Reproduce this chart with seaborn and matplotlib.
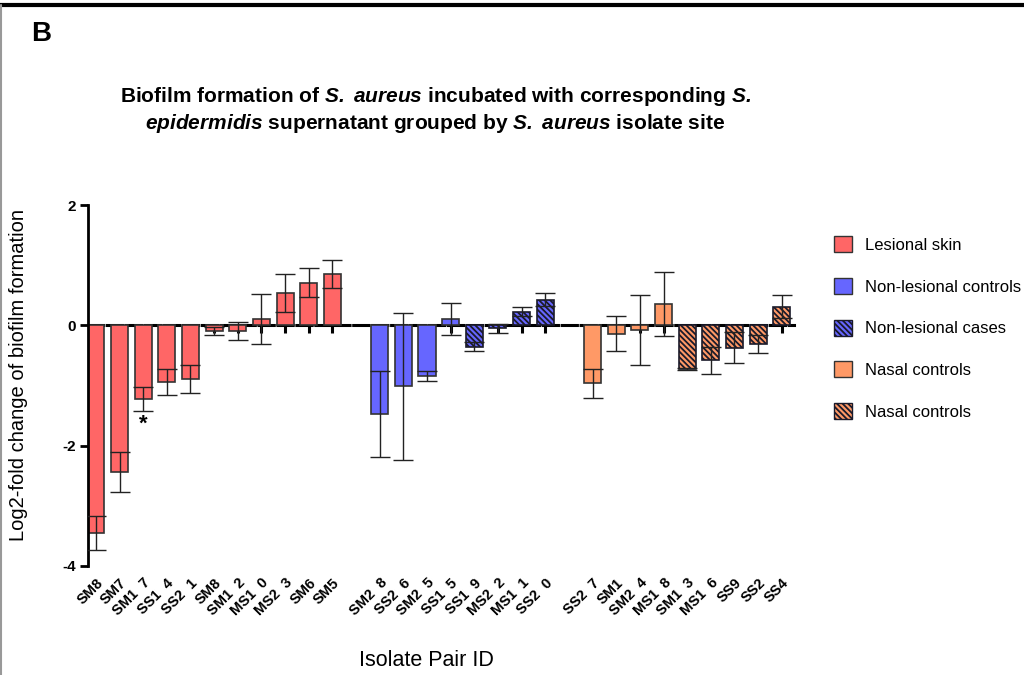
import numpy as np
import pandas as pd
import matplotlib
matplotlib.use("Agg")
import matplotlib.pyplot as plt
import seaborn as sns
from matplotlib.patches import Patch
from matplotlib.lines import Line2D

# ---------------- data ----------------
red_ids = ["SM8", "SM7", "SM1  7", "SS1  4", "SS2  1", "SM8", "SM1  2", "MS1  0", "MS2  3", "SM6", "SM5"]
red_mean = [-3.45, -2.44, -1.22, -0.94, -0.89, -0.09, -0.09, 0.11, 0.54, 0.71, 0.86]
red_err = [0.28, 0.33, 0.20, 0.21, 0.24, 0.07, 0.15, 0.41, 0.32, 0.24, 0.23]

blue_ctrl_ids = ["SM2  8", "SS2  6", "SM2  5", "SS1  5"]
blue_ctrl_mean = [-1.47, -1.01, -0.84, 0.11]
blue_ctrl_err = [0.72, 1.22, 0.08, 0.27]

blue_case_ids = ["SS1  9", "MS2  2", "MS1  1", "SS2  0"]
blue_case_mean = [-0.35, -0.05, 0.23, 0.43]
blue_case_err = [0.07, 0.08, 0.07, 0.11]

or_ctrl_ids = ["SS2  7", "SM1", "SM2  4", "MS1  8"]
or_ctrl_mean = [-0.96, -0.14, -0.08, 0.36]
or_ctrl_err = [0.24, 0.29, 0.58, 0.53]

or_case_ids = ["SM1  3", "MS1  6", "SS9", "SS2", "SS4"]
or_case_mean = [-0.72, -0.58, -0.37, -0.31, 0.31]
or_case_err = [0.02, 0.23, 0.26, 0.15, 0.19]

groups = ["Lesional skin", "Non-lesional controls", "Non-lesional cases", "Nasal controls", "Nasal cases"]
legend_labels = ["Lesional skin", "Non-lesional controls", "Non-lesional cases", "Nasal controls", "Nasal controls"]
colors = ["#FF6666", "#6666FF", "#6666FF", "#FF9966", "#FF9966"]
hatched = [False, False, True, False, True]

# ---------------- build frame ----------------
blocks = [
    [(groups[0], red_ids, red_mean, red_err)],
    [(groups[1], blue_ctrl_ids, blue_ctrl_mean, blue_ctrl_err),
     (groups[2], blue_case_ids, blue_case_mean, blue_case_err)],
    [(groups[3], or_ctrl_ids, or_ctrl_mean, or_ctrl_err),
     (groups[4], or_case_ids, or_case_mean, or_case_err)],
]
rows = []
order = []
ticklabels = []
for bi, block in enumerate(blocks):
    if bi > 0:
        gap = f"gap{bi}"
        order.append(gap)
        ticklabels.append("")
    for g, ids, means, errs in block:
        for k, (i, m, e) in enumerate(zip(ids, means, errs)):
            key = f"{g}:{k}"
            rows.append(dict(key=key, label=i, group=g, value=m, err=e))
            order.append(key)
            ticklabels.append(i)
df = pd.DataFrame(rows)
df["pos"] = [order.index(k) for k in df["key"]]

# ---------------- style ----------------
sns.set_style("ticks")
plt.rcParams["font.family"] = ["Liberation Sans", "DejaVu Sans"]
plt.rcParams["mathtext.fontset"] = "custom"
plt.rcParams["mathtext.rm"] = "Liberation Sans"
plt.rcParams["mathtext.it"] = "Liberation Sans:italic"
plt.rcParams["mathtext.bf"] = "Liberation Sans:bold"
plt.rcParams["mathtext.bfit"] = "Liberation Sans:italic:bold"
plt.rcParams["hatch.linewidth"] = 1.3
for key in ["text.color", "axes.labelcolor", "xtick.color", "ytick.color", "axes.edgecolor"]:
    plt.rcParams[key] = "black"

HATCH = "\\\\\\\\\\\\"

fig = plt.figure(figsize=(10.24, 6.75), dpi=100)
ax = fig.add_axes([0.086, 0.1615, 0.689, 0.5345])

pal = dict(zip(groups, colors))
sns.barplot(data=df, x="key", y="value", hue="group", order=order, hue_order=groups,
            palette=pal, dodge=False, errorbar=None, legend=False, width=0.72,
            edgecolor="#333333", linewidth=1.2, saturation=1, ax=ax, zorder=2)

hatch_pos = set(df.loc[df["group"].isin([g for g, h in zip(groups, hatched) if h]), "pos"])
for p in ax.patches:
    c = p.get_x() + p.get_width() / 2
    if int(round(c)) in hatch_pos and p.get_height() != 0:
        p.set_hatch(HATCH)
        p.set_edgecolor("#1a1a2a")

ax.errorbar(df["pos"], df["value"], yerr=df["err"], fmt="none", ecolor="#222222",
            elinewidth=1.0, capsize=7, capthick=1.0, zorder=3)

# significance marker
ax.text(2, -1.47, "*", ha="center", va="top", fontsize=16, fontweight="bold")

ax.set_xlim(-0.33, len(order) - 0.5)
ax.set_ylim(-4, 2)
ax.set_yticks([-4, -2, 0, 2])
ax.set_yticklabels(["-4", "-2", "0", "2"], fontweight="bold", fontsize=11)
ax.set_xticks(range(len(order)))
ax.set_xticklabels(ticklabels, rotation=45, ha="right", rotation_mode="anchor",
                   fontweight="bold", fontsize=10.5)
ax.tick_params(axis="x", length=0, pad=7)
ax.tick_params(axis="y", length=6, width=2, direction="out", pad=3)
for s in ["top", "right", "bottom"]:
    ax.spines[s].set_visible(False)
ax.spines["left"].set_linewidth(2)

# zero axis with ticks
sec = ax.secondary_xaxis(0, transform=ax.transData)
sec.set_xticks(list(df["pos"]))
sec.set_xticklabels([])
sec.tick_params(axis="x", length=6, width=2.2, direction="out")
sec.spines["bottom"].set_linewidth(2.2)
sec.spines["bottom"].set_linestyle((0, (5, 1.2)))

ax.set_ylabel("Log2-fold change of biofilm formation", fontsize=14.5)
ax.yaxis.set_label_coords(-0.085, 0.53)
ax.set_xlabel("Isolate Pair ID", fontsize=15.5)
ax.xaxis.set_label_coords(0.48, -0.232)

title = ("Biofilm formation of $\\bfit{S.}$ $\\bfit{aureus}$ incubated with corresponding $\\bfit{S.}$\n"
         "$\\bfit{epidermidis}$ supernatant grouped by $\\bfit{S.}$ $\\bfit{aureus}$ isolate site")
fig.text(0.425, 0.837, title, ha="center", va="center", fontsize=15, fontweight="bold",
         linespacing=1.2)

fig.text(0.03, 0.95, "B", ha="left", va="center", fontsize=20, fontweight="bold")

# legend
handles = []
for lab, col, h in zip(legend_labels, colors, hatched):
    handles.append(Patch(facecolor=col, edgecolor="#1a1a2a" if h else "#333333",
                         hatch=HATCH if h else None, linewidth=1.0, label=lab))
fig.legend(handles=handles, loc="upper left", bbox_to_anchor=(0.806, 0.662), frameon=False,
           fontsize=12, handlelength=1.1, handleheight=1.1, labelspacing=1.5,
           handletextpad=0.8, borderpad=0)

# page frame lines
fig.add_artist(Line2D([0, 1], [0.993, 0.993], color="black", lw=3, transform=fig.transFigure))
fig.add_artist(Line2D([0.001, 0.001], [0, 0.993], color="#999999", lw=1.5, transform=fig.transFigure))

fig.savefig("out.png", dpi=100)
